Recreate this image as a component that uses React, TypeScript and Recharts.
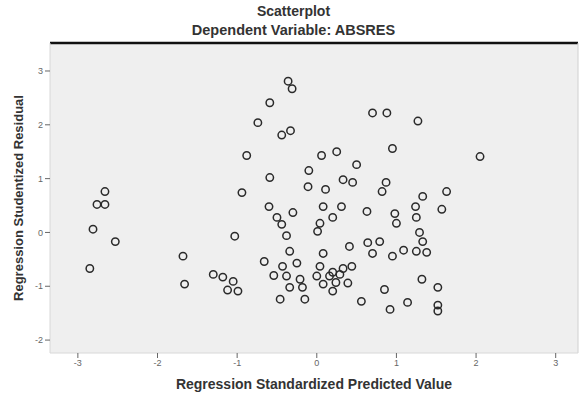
import React from "react";
import {
  ScatterChart,
  Scatter,
  XAxis,
  YAxis,
  CartesianGrid,
  ReferenceLine,
} from "recharts";

// Regression Standardized Predicted Value
const predictedValues: number[] = [
  -2.66, -2.76, -2.66, -2.81, -2.53, -2.85,
  -1.68, -1.66, -1.03, -1.30, -1.18, -1.05, -1.12, -0.99, -0.94, -0.88,
  -0.36, -0.31, -0.59, -0.74, -0.44, -0.33,
  -0.59, -0.60, -0.30, -0.50, -0.44, -0.38, -0.34, -0.66, -0.43, -0.25,
  -0.54, -0.38, -0.21, -0.34, -0.18, -0.46, -0.15,
  -0.10, -0.11, 0.11, 0.06, 0.25, 0.50, 0.33, 0.45, 0.87, 0.82,
  0.08, 0.31, 0.20, 0.04, 0.01, 0.63, 0.98, 1.00, 1.24, 1.25, 1.57, 1.63, 1.33,
  0.70, 0.88, 1.27, 0.95, 2.05,
  1.29, 1.33, 0.64, 0.79, 0.41, 0.70, 0.95, 1.09, 1.25, 1.38,
  0.08, 0.04, 0.00, 0.20, 0.33, 0.44, 0.29,
  0.08, 0.24, 0.39, 0.20, 0.16,
  0.56, 0.85, 1.32, 1.52, 1.14, 0.92, 1.52, 1.52,
];

// Regression Studentized Residual
const residualValues: number[] = [
  0.76, 0.52, 0.52, 0.06, -0.17, -0.67,
  -0.44, -0.96, -0.07, -0.78, -0.83, -0.91, -1.07, -1.09, 0.74, 1.43,
  2.81, 2.67, 2.41, 2.04, 1.81, 1.89,
  1.02, 0.48, 0.37, 0.28, 0.15, -0.06, -0.35, -0.54, -0.63, -0.57,
  -0.80, -0.81, -0.87, -1.02, -1.02, -1.24, -1.24,
  1.15, 0.85, 0.80, 1.43, 1.50, 1.26, 0.98, 0.93, 0.93, 0.76,
  0.48, 0.48, 0.28, 0.17, 0.02, 0.39, 0.35, 0.17, 0.48, 0.28, 0.43, 0.76, 0.67,
  2.22, 2.22, 2.07, 1.56, 1.41,
  0.00, -0.17, -0.19, -0.17, -0.26, -0.39, -0.44, -0.33, -0.35, -0.37,
  -0.39, -0.63, -0.81, -0.74, -0.67, -0.63, -0.78,
  -0.96, -0.93, -0.94, -1.09, -0.81,
  -1.28, -1.06, -0.87, -1.02, -1.30, -1.43, -1.35, -1.46,
];

const xTicks = [-3, -2, -1, 0, 1, 2, 3];
const yTicks = [-2, -1, 0, 1, 2, 3];

const chartTitle = "Scatterplot";
const chartSubtitle = "Dependent Variable: ABSRES";
const xTitle = "Regression Standardized Predicted Value";
const yTitle = "Regression Studentized Residual";

const data = predictedValues.map((x, i) => ({ x, y: residualValues[i] }));

const X_DOMAIN: [number, number] = [-3.35, 3.28];
const Y_DOMAIN: [number, number] = [-2.24, 3.52];

const FONT = "'Liberation Sans', Arial, sans-serif";

const RingShape = (props: any) => {
  const { cx, cy } = props;
  if (cx == null || cy == null) return null;
  return (
    <circle cx={cx} cy={cy} r={3.7} fill="none" stroke="#2a2a2a" strokeWidth={1.5} />
  );
};

export default function App() {
  return (
    <div
      style={{
        position: "absolute",
        left: 0,
        top: 0,
        width: 587,
        height: 394,
        background: "#ffffff",
        fontFamily: FONT,
      }}
    >
      <div
        style={{
          position: "absolute",
          left: 0,
          width: 587,
          top: 3,
          textAlign: "center",
          fontWeight: "bold",
          fontSize: 14,
          color: "#333",
        }}
      >
        {chartTitle}
      </div>
      <div
        style={{
          position: "absolute",
          left: 0,
          width: 587,
          top: 22,
          textAlign: "center",
          fontWeight: "bold",
          fontSize: 14.5,
          color: "#333",
        }}
      >
        {chartSubtitle}
      </div>
      <div
        style={{
          position: "absolute",
          left: 0,
          top: 0,
        }}
      >
        <ScatterChart
          width={587}
          height={394}
          margin={{ top: 43, right: 9, bottom: 0, left: 0 }}
        >
          <CartesianGrid
            fill="#efefef"
            stroke="none"
            horizontal={false}
            vertical={false}
          />
          <XAxis
            type="number"
            dataKey="x"
            domain={X_DOMAIN}
            ticks={xTicks}
            allowDataOverflow
            height={41}
            axisLine={{ stroke: "#d8d8d8" }}
            tickLine={{ stroke: "#666" }}
            tickSize={5}
            tick={{ fontSize: 9, fill: "#666", fontFamily: FONT }}
            label={{
              value: xTitle,
              position: "insideBottom",
              offset: 5,
              style: { fontSize: 14, fontWeight: "bold", fill: "#333", fontFamily: FONT },
            }}
          />
          <YAxis
            type="number"
            dataKey="y"
            domain={Y_DOMAIN}
            ticks={yTicks}
            allowDataOverflow
            width={50}
            axisLine={{ stroke: "#d8d8d8" }}
            tickLine={{ stroke: "#666" }}
            tickSize={5}
            tick={{ fontSize: 9, fill: "#666", fontFamily: FONT }}
            label={{
              value: yTitle,
              angle: -90,
              position: "insideLeft",
              offset: 18,
              style: {
                fontSize: 13,
                fontWeight: "bold",
                fill: "#333",
                fontFamily: FONT,
                textAnchor: "middle",
              },
            }}
          />
          <ReferenceLine
            y={Y_DOMAIN[1]}
            stroke="#111"
            strokeWidth={2.5}
            ifOverflow="visible"
          />
          <ReferenceLine
            x={X_DOMAIN[1]}
            stroke="#d0d0d0"
            strokeWidth={1}
            ifOverflow="visible"
          />
          <Scatter
            data={data}
            shape={RingShape}
            isAnimationActive={false}
          />
        </ScatterChart>
      </div>
    </div>
  );
}
